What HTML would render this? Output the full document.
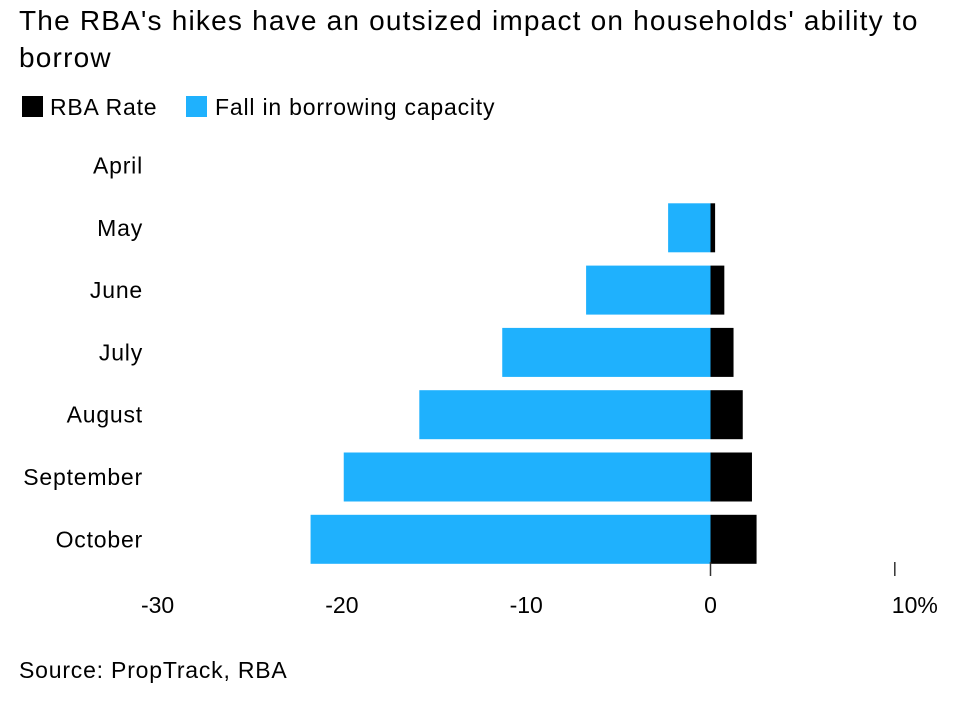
<!DOCTYPE html>
<html><head><meta charset="utf-8"><style>
body{margin:0;width:960px;height:698px;background:#fff;font-family:"Liberation Sans",sans-serif;overflow:hidden}
svg text{font-family:"Liberation Sans",sans-serif}
</style></head><body>
<svg width="960" height="698">
<text x="19" y="30" font-size="28" letter-spacing="1.2" fill="#000">The RBA's hikes have an outsized impact on households' ability to</text>
<text x="19" y="67" font-size="28" letter-spacing="1.2" fill="#000">borrow</text>
<g>
<rect x="22" y="96" width="21" height="21" fill="#000"/>
<text x="50" y="115" font-size="23" letter-spacing="0.8">RBA Rate</text>
<rect x="186" y="96" width="21" height="21" fill="#1fb1fd"/>
<text x="215" y="115" font-size="23" letter-spacing="0.8">Fall in borrowing capacity</text>
</g>
<g id="plot"></g>
<text x="19" y="678" font-size="23" letter-spacing="0.8">Source: PropTrack, RBA</text>
</svg>
<script>
const categories=["April","May","June","July","August","September","October"];
const rbaRate=[0,0.25,0.75,1.25,1.75,2.25,2.5];
const borrowFall=[0,-2.3,-6.75,-11.3,-15.8,-19.9,-21.7];
const tickValues=[-30,-20,-10,0,10];
const tickLabels=["-30","-20","-10","0","10%"];
const NS="http://www.w3.org/2000/svg";
const g=document.getElementById('plot');
const x=v=>710.5+v*18.43;
const yTop=i=>141+i*62.3;
const bh=49;
function mk(t,a){const e=document.createElementNS(NS,t);for(const k in a)e.setAttribute(k,a[k]);g.appendChild(e);return e;}
categories.forEach((c,i)=>{
  const t=mk('text',{x:143,y:yTop(i)+bh/2+8,'font-size':23,'letter-spacing':0.8,'text-anchor':'end'});
  t.textContent=c;
  
  
  if(borrowFall[i]<0){
  const b=mk('rect',{x:x(borrowFall[i]),y:yTop(i),width:x(0)-x(borrowFall[i]),height:bh,fill:'#1fb1fd'});
  
  }
  if(rbaRate[i]>0){
  const r=mk('rect',{x:x(0),y:yTop(i),width:x(rbaRate[i])-x(0),height:bh,fill:'#000'});
  
  }
});
tickValues.forEach((v,i)=>{
  if(v>=0){const l=mk('line',{x1:x(v),x2:x(v),y1:562,y2:576,stroke:'#333','stroke-width':1.5});
  
  }
  const last=i===tickValues.length-1;
  const t=mk('text',{x:last?x(v)-3:x(v),y:613,'font-size':23,'text-anchor':last?'start':'middle'});
  t.textContent=tickLabels[i];
  
  
});
</script>
</body></html>
